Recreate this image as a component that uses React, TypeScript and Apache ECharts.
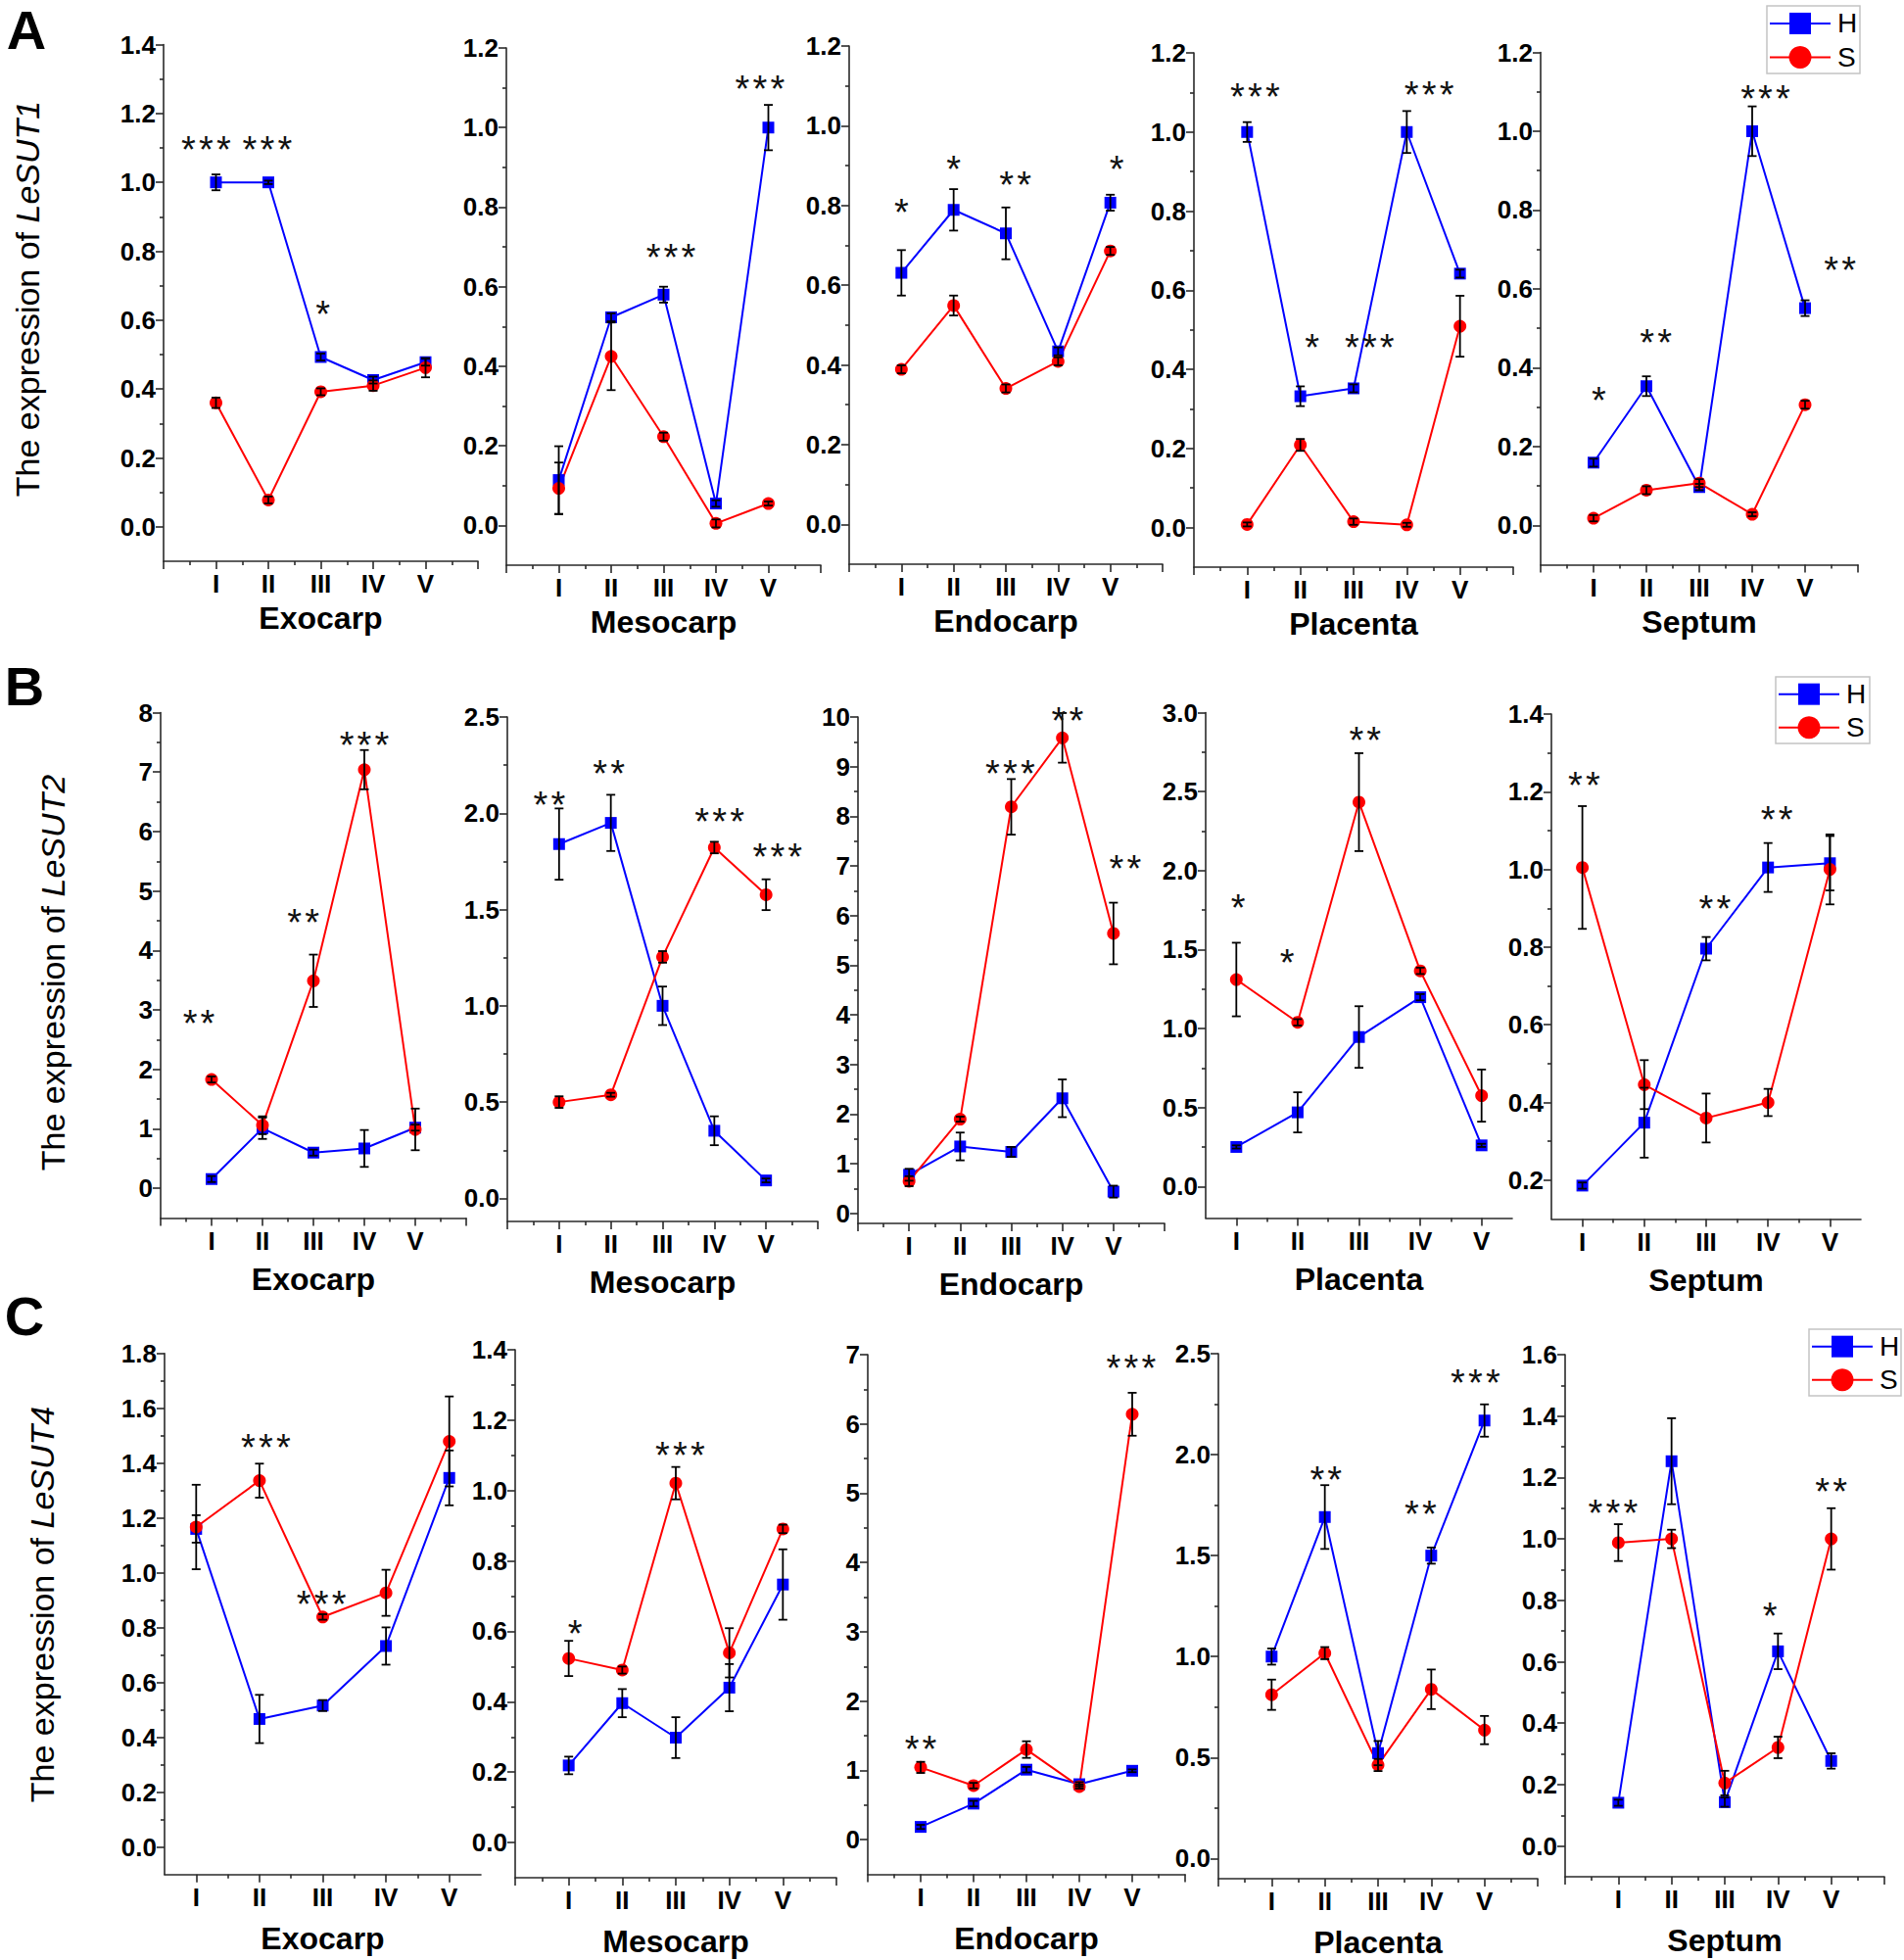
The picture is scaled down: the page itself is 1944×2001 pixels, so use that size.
import React, { useEffect, useRef } from 'react';
import * as echarts from 'echarts';

// ---------- categories ----------
const stages = ['I', 'II', 'III', 'IV', 'V'];
const tissues = ['Exocarp', 'Mesocarp', 'Endocarp', 'Placenta', 'Septum'];
const genes = ['LeSUT1', 'LeSUT2', 'LeSUT4'];
const panelLetters = ['A', 'B', 'C'];
const seriesNames = ['H', 'S'];

// ---------- LeSUT1 (row A): rows = tissues, columns = stages I..V ----------
const sut1H = [
  [1.0, 1.0, 0.493, 0.426, 0.478],
  [0.114, 0.523, 0.58, 0.055, 1.0],
  [0.631, 0.789, 0.73, 0.434, 0.807],
  [1.0, 0.332, 0.352, 1.0, 0.642],
  [0.159, 0.353, 0.097, 1.0, 0.551],
];
const sut1HErr = [
  [0.023, 0.005, 0.01, 0.01, 0.01],
  [0.085, 0.01, 0.02, 0.008, 0.057],
  [0.057, 0.052, 0.065, 0.01, 0.02],
  [0.025, 0.025, 0.01, 0.053, 0.01],
  [0.01, 0.025, 0.008, 0.063, 0.02],
];
const sut1S = [
  [0.36, 0.078, 0.392, 0.41, 0.462],
  [0.093, 0.425, 0.223, 0.005, 0.055],
  [0.389, 0.549, 0.341, 0.409, 0.686],
  [0.008, 0.209, 0.015, 0.007, 0.509],
  [0.018, 0.089, 0.107, 0.028, 0.306],
];
const sut1SErr = [
  [0.015, 0.01, 0.01, 0.015, 0.028],
  [0.065, 0.085, 0.01, 0.01, 0.005],
  [0.01, 0.025, 0.01, 0.01, 0.01],
  [0.005, 0.015, 0.008, 0.005, 0.077],
  [0.008, 0.01, 0.01, 0.005, 0.01],
];
const sut1Stars = [
  [[0.81, 1.12, '***'], [1.98, 1.12, '***'], [3.04, 0.643, '*']],
  [[3.14, 0.696, '***'], [4.84, 1.12, '***']],
  [[1.0, 0.805, '*'], [2.0, 0.914, '*'], [3.18, 0.873, '**'], [5.12, 0.914, '*']],
  [[1.15, 1.11, '***'], [2.22, 0.478, '*'], [3.3, 0.478, '***'], [4.42, 1.115, '***']],
  [[1.1, 0.34, '*'], [2.18, 0.486, '**'], [4.25, 1.105, '***'], [5.66, 0.669, '**']],
];

// ---------- LeSUT2 (row B) ----------
const sut2H = [
  [0.155, 1.01, 0.6, 0.67, 1.02],
  [1.84, 1.95, 1.0, 0.351, 0.093],
  [0.78, 1.35, 1.24, 2.32, 0.44],
  [0.25, 0.469, 0.946, 1.198, 0.26],
  [0.186, 0.348, 0.796, 1.005, 1.016],
];
const sut2HErr = [
  [0.05, 0.18, 0.05, 0.31, 0.05],
  [0.185, 0.146, 0.1, 0.075, 0.01],
  [0.12, 0.28, 0.1, 0.38, 0.12],
  [0.01, 0.127, 0.195, 0.02, 0.01],
  [0.008, 0.09, 0.03, 0.063, 0.07],
];
const sut2S = [
  [1.83, 1.06, 3.49, 7.04, 0.99],
  [0.5, 0.538, 1.254, 1.822, 1.577],
  [0.65, 1.9, 8.19, 9.58, 5.64],
  [1.31, 1.039, 2.433, 1.365, 0.575],
  [1.005, 0.446, 0.36, 0.4, 1.0],
];
const sut2SErr = [
  [0.05, 0.15, 0.44, 0.33, 0.35],
  [0.03, 0.01, 0.03, 0.03, 0.08],
  [0.1, 0.05, 0.56, 0.5, 0.62],
  [0.233, 0.02, 0.31, 0.02, 0.165],
  [0.158, 0.063, 0.063, 0.035, 0.09],
];
const sut2Stars = [
  [[0.75, 2.92, '**'], [2.8, 4.61, '**'], [4.0, 7.6, '***']],
  [[0.81, 2.09, '**'], [1.96, 2.25, '**'], [4.1, 2.0, '***'], [5.22, 1.82, '***']],
  [[2.98, 9.03, '***'], [4.1, 10.1, '**'], [5.23, 7.12, '**']],
  [[1.03, 1.82, '*'], [1.83, 1.47, '*'], [3.1, 2.88, '**']],
  [[1.03, 1.24, '**'], [3.14, 0.92, '**'], [4.14, 1.15, '**']],
];

// ---------- LeSUT4 (row C) ----------
const sut4H = [
  [1.16, 0.467, 0.516, 0.733, 1.346],
  [0.219, 0.396, 0.298, 0.44, 0.733],
  [0.184, 0.52, 1.01, 0.8, 0.994],
  [1.0, 1.691, 0.522, 1.5, 2.169],
  [0.141, 1.253, 0.143, 0.634, 0.277],
];
const sut4HErr = [
  [0.05, 0.088, 0.02, 0.068, 0.1],
  [0.025, 0.04, 0.058, 0.067, 0.1],
  [0.03, 0.04, 0.04, 0.03, 0.02],
  [0.04, 0.158, 0.06, 0.04, 0.08],
  [0.01, 0.14, 0.015, 0.058, 0.025],
];
const sut4S = [
  [1.167, 1.336, 0.839, 0.927, 1.479],
  [0.523, 0.49, 1.021, 0.539, 0.891],
  [1.043, 0.78, 1.3, 0.767, 6.14],
  [0.811, 1.017, 0.463, 0.838, 0.636],
  [0.988, 1.0, 0.205, 0.321, 1.0],
];
const sut4SErr = [
  [0.154, 0.062, 0.01, 0.084, 0.164],
  [0.05, 0.01, 0.046, 0.07, 0.012],
  [0.08, 0.04, 0.12, 0.03, 0.31],
  [0.075, 0.03, 0.03, 0.098, 0.07],
  [0.06, 0.03, 0.04, 0.035, 0.1],
];
const sut4Stars = [
  [[2.1, 1.49, '***'], [2.98, 0.916, '***']],
  [[1.12, 0.618, '*'], [3.08, 1.126, '***']],
  [[1.0, 1.43, '**'], [4.98, 6.93, '***']],
  [[2.02, 1.92, '**'], [3.8, 1.75, '**'], [4.83, 2.4, '***']],
  [[0.9, 1.112, '***'], [3.85, 0.776, '*'], [5.0, 1.184, '**']],
];

// ---------- axis scales: [min, max, major step, decimals] ----------
const sut1YScale = [[-0.1, 1.4, 0.2, 1], [-0.1, 1.2, 0.2, 1], [-0.1, 1.2, 0.2, 1], [-0.1, 1.2, 0.2, 1], [-0.1, 1.2, 0.2, 1]];
const sut2YScale = [[-0.5, 8, 1, 0], [-0.12, 2.5, 0.5, 1], [-0.2, 10, 1, 0], [-0.2, 3, 0.5, 1], [0.1, 1.4, 0.2, 1]];
const sut4YScale = [[-0.1, 1.8, 0.2, 1], [-0.1, 1.4, 0.2, 1], [-0.5, 7, 1, 0], [-0.1, 2.5, 0.5, 1], [-0.1, 1.6, 0.2, 1]];
const sut1XScale = [[0, 6], [0, 6], [0, 6], [0, 6], [0, 6]];
const sut2XScale = [[0, 6], [0, 6], [0, 6], [0.5, 5.5], [0.5, 5.5]];
const sut4XScale = [[0.5, 5.5], [0, 6], [0, 6], [0, 6], [0, 6]];

// ---------- layout (pixels) ----------
const rowABoxes = [[167, 45.5, 321, 527.5], [517, 49, 321, 528], [867, 47, 320, 529], [1219, 54, 326, 525], [1573, 53.5, 324, 523]];
const rowBBoxes = [[164, 727.5, 312, 516], [518, 732, 317, 515], [876, 732, 313, 517], [1231, 727.5, 313, 516], [1584, 729, 316, 515.5]];
const rowCBoxes = [[168, 1381.7, 323, 532], [526, 1378, 328, 539], [886, 1383, 324, 530.5], [1244, 1382, 326, 536], [1598, 1383, 326, 533]];
const rowNameGap = [42, 46, 49];
const rowLegend = [[1804, 6, 95, 69], [1813, 691, 96, 68], [1847, 1357, 94, 68]];
const rowTitlePos = [[28, 305], [54, 993], [43, 1638]];
const rowLetterPos = [[27, 30], [25, 700], [25, 1343]];

const FONT = '"Liberation Sans", Arial, Helvetica, sans-serif';
const BLUE = '#0000ff';
const RED = '#ff0000';
const AXIS = '#2a2a2a';

function steps(start: number, end: number, step: number): number[] {
  const out: number[] = [];
  for (let i = 0; i < 1000; i++) {
    const v = +(start + i * step).toFixed(6);
    if (v > end + 1e-9) break;
    out.push(v);
  }
  return out;
}

function buildOption() {
  const rows = [
    { H: sut1H, HE: sut1HErr, S: sut1S, SE: sut1SErr, stars: sut1Stars, ys: sut1YScale, xs: sut1XScale, boxes: rowABoxes },
    { H: sut2H, HE: sut2HErr, S: sut2S, SE: sut2SErr, stars: sut2Stars, ys: sut2YScale, xs: sut2XScale, boxes: rowBBoxes },
    { H: sut4H, HE: sut4HErr, S: sut4S, SE: sut4SErr, stars: sut4Stars, ys: sut4YScale, xs: sut4XScale, boxes: rowCBoxes },
  ];
  const grid: any[] = [];
  const xAxis: any[] = [];
  const yAxis: any[] = [];
  const series: any[] = [];
  const graphic: any[] = [];
  const lineStyle = { color: AXIS, width: 1.6 };

  rows.forEach((row, r) => {
    for (let t = 0; t < 5; t++) {
      const idx = r * 5 + t;
      const [left, top, width, height] = row.boxes[t];
      grid.push({ left, top, width, height, containLabel: false });
      const [xmin, xmax] = row.xs[t];
      const [ymin, ymax, step, dec] = row.ys[t];
      const xMajor = steps(Math.ceil(xmin), xmax, 1);
      const xMinor = steps(Math.ceil(xmin) - 0.5, xmax, 1).filter((v) => v > xmin + 1e-9 && v < xmax - 1e-9);
      const yFirst = Math.ceil(ymin / step - 1e-9) * step;
      const yMajor = steps(yFirst, ymax, step);
      const yMinor = steps(yFirst - step / 2, ymax, step).filter((v) => v > ymin + 1e-9 && v < ymax - 1e-9);

      xAxis.push({
        type: 'value', gridIndex: idx, min: xmin, max: xmax, position: 'bottom',
        axisLine: { show: true, onZero: false, lineStyle },
        axisTick: { show: true, customValues: xMajor, length: 8, lineStyle },
        axisLabel: {
          show: true, customValues: [1, 2, 3, 4, 5],
          formatter: (v: number) => stages[Math.round(v) - 1] || '',
          margin: 10, fontSize: 26, fontWeight: 'bold', color: '#000', fontFamily: FONT,
        },
        splitLine: { show: false },
        name: tissues[t], nameLocation: 'middle', nameGap: rowNameGap[r],
        nameTextStyle: { fontSize: 32, fontWeight: 'bold', color: '#000', fontFamily: FONT },
      });
      xAxis.push({
        type: 'value', gridIndex: idx, min: xmin, max: xmax, position: 'bottom',
        axisLine: { show: false, onZero: false },
        axisTick: { show: true, customValues: xMinor, length: 4, lineStyle },
        axisLabel: { show: false },
        splitLine: { show: false },
      });
      yAxis.push({
        type: 'value', gridIndex: idx, min: ymin, max: ymax, position: 'left',
        axisLine: { show: true, onZero: false, lineStyle },
        axisTick: { show: true, customValues: yMajor, length: 8, lineStyle },
        axisLabel: {
          show: true, customValues: yMajor,
          formatter: (v: number) => v.toFixed(dec),
          margin: 8, fontSize: 26, fontWeight: 'bold', color: '#000', fontFamily: FONT,
        },
        splitLine: { show: false },
      });
      yAxis.push({
        type: 'value', gridIndex: idx, min: ymin, max: ymax, position: 'left',
        axisLine: { show: false, onZero: false },
        axisTick: { show: true, customValues: yMinor, length: 4, lineStyle },
        axisLabel: { show: false },
        splitLine: { show: false },
      });

      const xi = idx * 2;
      const yi = idx * 2;
      const hVals = row.H[t];
      const sVals = row.S[t];
      series.push({
        type: 'line', name: seriesNames[0], xAxisIndex: xi, yAxisIndex: yi,
        data: stages.map((_, k) => [k + 1, hVals[k]]),
        symbol: 'rect', symbolSize: 12, showSymbol: true,
        itemStyle: { color: BLUE }, lineStyle: { color: BLUE, width: 2 }, z: 2,
      });
      series.push({
        type: 'line', name: seriesNames[1], xAxisIndex: xi, yAxisIndex: yi,
        data: stages.map((_, k) => [k + 1, sVals[k]]),
        symbol: 'circle', symbolSize: 13, showSymbol: true,
        itemStyle: { color: RED }, lineStyle: { color: RED, width: 2 }, z: 2,
      });
      const errData: number[][] = [];
      stages.forEach((_, k) => {
        errData.push([k + 1, hVals[k] - row.HE[t][k], hVals[k] + row.HE[t][k]]);
        errData.push([k + 1, sVals[k] - row.SE[t][k], sVals[k] + row.SE[t][k]]);
      });
      series.push({
        type: 'custom', xAxisIndex: xi, yAxisIndex: yi, z: 5, silent: true,
        data: errData,
        encode: { x: 0, y: [1, 2] },
        renderItem: (_p: any, api: any) => {
          const x = api.value(0);
          const p1 = api.coord([x, api.value(2)]);
          const p2 = api.coord([x, api.value(1)]);
          const w = 4.5;
          const st = { stroke: '#000', lineWidth: 1.8 };
          return {
            type: 'group',
            children: [
              { type: 'line', shape: { x1: p1[0], y1: p1[1], x2: p2[0], y2: p2[1] }, style: st },
              { type: 'line', shape: { x1: p1[0] - w, y1: p1[1], x2: p1[0] + w, y2: p1[1] }, style: st },
              { type: 'line', shape: { x1: p2[0] - w, y1: p2[1], x2: p2[0] + w, y2: p2[1] }, style: st },
            ],
          };
        },
      });
      const starList = row.stars[t];
      series.push({
        type: 'custom', xAxisIndex: xi, yAxisIndex: yi, z: 6, silent: true,
        data: starList.map((s: any) => [s[0], s[1]]),
        encode: { x: 0, y: 1 },
        renderItem: (p: any, api: any) => {
          const s = starList[p.dataIndex];
          const c = api.coord([s[0], s[1]]);
          const fs = 38;
          return {
            type: 'text', x: c[0], y: c[1] + fs * 0.24,
            style: {
              text: String(s[2]).split('').join('\u200A'),
              fontSize: fs, fontFamily: FONT, fill: '#111', align: 'center', verticalAlign: 'middle',
            },
          };
        },
      });
    }

    // legend box
    const [bx, by, bw, bh] = rowLegend[r];
    const yH = bh * 0.26;
    const yS = bh * 0.76;
    graphic.push({
      type: 'group', x: bx, y: by,
      children: [
        { type: 'rect', shape: { x: 0, y: 0, width: bw, height: bh }, style: { fill: '#fff', stroke: '#c4c4c4', lineWidth: 1.5 } },
        { type: 'line', shape: { x1: 3, y1: yH, x2: 65, y2: yH }, style: { stroke: BLUE, lineWidth: 2 } },
        { type: 'rect', shape: { x: 34 - 11, y: yH - 11, width: 22, height: 22 }, style: { fill: BLUE } },
        { type: 'text', x: 72, y: yH, style: { text: seriesNames[0], fontSize: 28, fontFamily: FONT, fill: '#000', align: 'left', verticalAlign: 'middle' } },
        { type: 'line', shape: { x1: 3, y1: yS, x2: 65, y2: yS }, style: { stroke: RED, lineWidth: 2 } },
        { type: 'circle', shape: { cx: 34, cy: yS, r: 11.5 }, style: { fill: RED } },
        { type: 'text', x: 72, y: yS, style: { text: seriesNames[1], fontSize: 28, fontFamily: FONT, fill: '#000', align: 'left', verticalAlign: 'middle' } },
      ],
    });
    // y title
    const [tx, ty] = rowTitlePos[r];
    graphic.push({
      type: 'text', x: tx, y: ty, rotation: Math.PI / 2,
      style: {
        text: 'The expression of {i|' + genes[r] + '}',
        rich: { i: { fontStyle: 'italic', fontSize: 34, fontFamily: FONT, fill: '#000' } },
        fontSize: 34, fontFamily: FONT, fill: '#000', align: 'center', verticalAlign: 'middle',
      },
    });
    // panel letter
    const [lx, ly] = rowLetterPos[r];
    graphic.push({
      type: 'text', x: lx, y: ly,
      style: {
        text: panelLetters[r], fontSize: 56, fontWeight: 'bold', fontFamily: FONT,
        fill: '#000', align: 'center', verticalAlign: 'middle',
      },
    });
  });

  return { animation: false, backgroundColor: '#fff', grid, xAxis, yAxis, series, graphic };
}

export default function App() {
  const ref = useRef<HTMLDivElement>(null);
  useEffect(() => {
    if (!ref.current) return;
    const chart = echarts.init(ref.current, undefined, { renderer: 'svg' });
    chart.setOption(buildOption() as any);
    return () => chart.dispose();
  }, []);
  return <div ref={ref} style={{ position: 'absolute', left: 0, top: 0, width: 1944, height: 2001, background: '#fff' }} />;
}
